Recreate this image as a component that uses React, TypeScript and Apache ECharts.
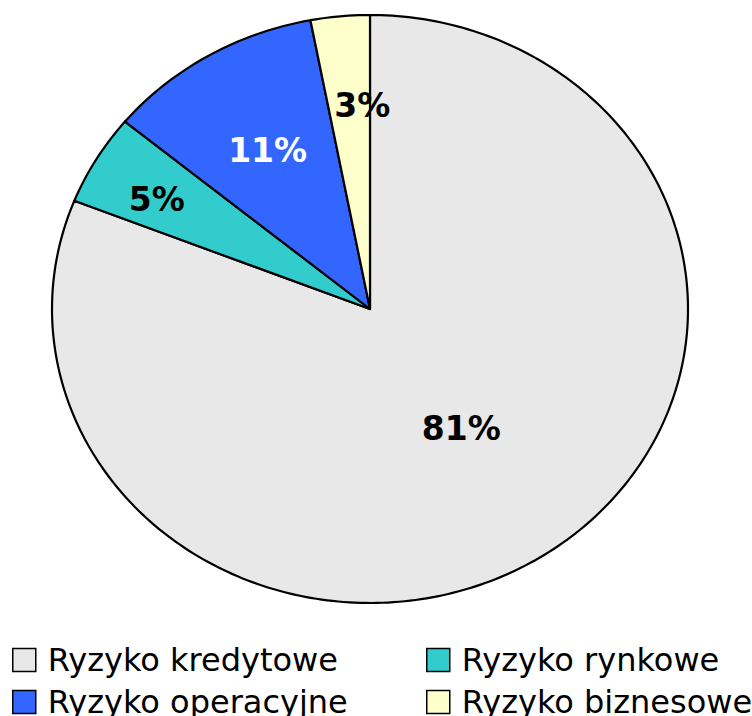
import React, { useEffect, useRef } from "react";
import * as echarts from "echarts";

const categories = ["Ryzyko kredytowe", "Ryzyko rynkowe", "Ryzyko operacyjne", "Ryzyko biznesowe"];
const values = [81, 5, 11, 3];
const colors = ["#E8E8E8", "#33CCCC", "#3366FF", "#FFFFCC"];
const labelColors = ["#000000", "#000000", "#FFFFFF", "#000000"];
const labelRadiusFactor = [0.5, 0.75, 0.62, 0.69];
const labelShiftX = [2, -8, -2, 13];
const labelShiftY = [-2, 3, -2, -2];

const CX = 370;
const CY = 309;
const RX = 318;
const RY = 294;
const FONT = "Verdana, 'DejaVu Sans', sans-serif";

export default function App() {
  const ref = useRef<HTMLDivElement>(null);
  useEffect(() => {
    if (!ref.current) return;
    const chart = echarts.init(ref.current, undefined, { renderer: "svg" });
    const total = values.reduce((a, b) => a + b, 0);
    const starts: number[] = [];
    let acc = 0;
    values.forEach((v) => {
      starts.push(acc);
      acc += v;
    });

    const series = categories.map((name, i) => ({
      type: "custom",
      name,
      coordinateSystem: "none",
      itemStyle: { color: colors[i] },
      data: [[values[i]]],
      renderItem: (params: any, api: any) => {
        const v = api.value(0);
        const a0 = (starts[i] / total) * Math.PI * 2;
        const a1 = ((starts[i] + v) / total) * Math.PI * 2;
        const pts: number[][] = [[CX, CY]];
        const steps = Math.max(4, Math.ceil(((a1 - a0) * 180) / Math.PI));
        for (let s = 0; s <= steps; s++) {
          const t = a0 + ((a1 - a0) * s) / steps;
          pts.push([CX + RX * Math.sin(t), CY - RY * Math.cos(t)]);
        }
        const mid = (a0 + a1) / 2;
        const k = labelRadiusFactor[i];
        return {
          type: "group",
          children: [
            {
              type: "polygon",
              shape: { points: pts },
              style: { fill: colors[i], stroke: "#000", lineWidth: 2.2, lineJoin: "round" },
            },
            {
              type: "text",
              x: CX + k * RX * Math.sin(mid) + labelShiftX[i],
              y: CY - k * RY * Math.cos(mid) + labelShiftY[i],
              style: {
                text: Math.round((v / total) * 100) + "%",
                fill: labelColors[i],
                font: `bold 33px ${FONT}`,
                align: "center",
                verticalAlign: "middle",
              },
            },
          ],
        };
      },
    }));

    const legendCommon = {
      orient: "horizontal",
      icon: "rect",
      itemWidth: 23,
      itemHeight: 23,
      padding: 0,
      selectedMode: false,
      itemStyle: { borderColor: "#000", borderWidth: 1.5 },
      textStyle: {
        fontFamily: FONT,
        fontSize: 32,
        color: "#000",
        lineHeight: 32,
        padding: [0, 0, 0, 7],
      },
    };

    chart.setOption({
      animation: false,
      backgroundColor: "#fff",
      legend: [
        { ...legendCommon, left: 12, top: 644, data: [categories[0]] },
        { ...legendCommon, left: 12, top: 686, data: [categories[2]] },
        { ...legendCommon, left: 426, top: 644, data: [categories[1]] },
        { ...legendCommon, left: 426, top: 686, data: [categories[3]] },
      ],
      series,
    } as any);
    return () => chart.dispose();
  }, []);
  return (
    <div
      ref={ref}
      style={{ position: "fixed", left: 0, top: 0, width: 752, height: 716 }}
    />
  );
}
